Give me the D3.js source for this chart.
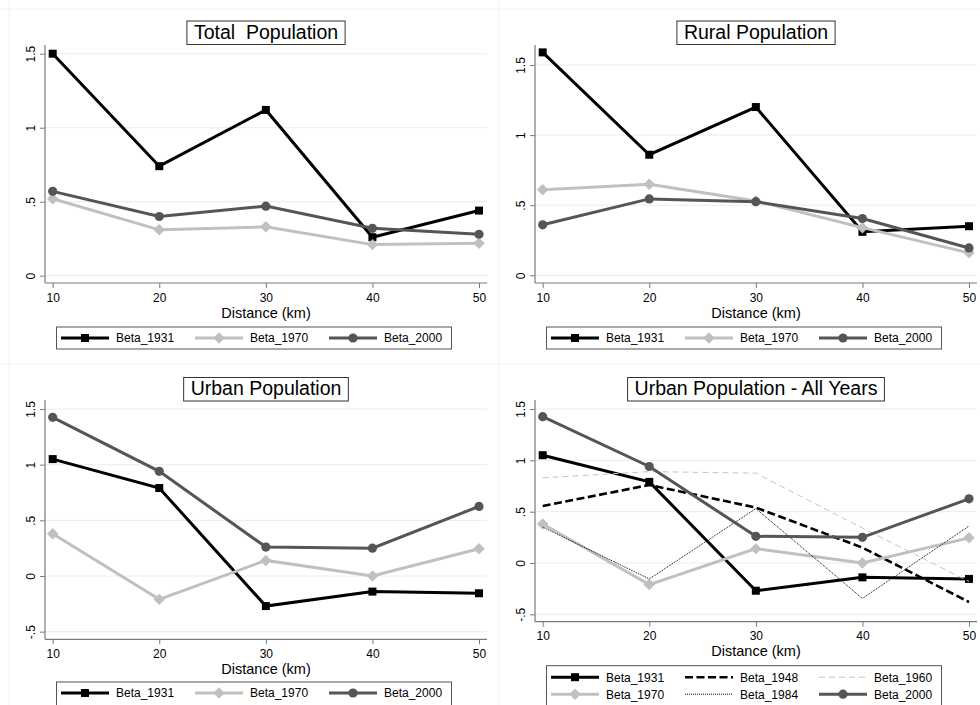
<!DOCTYPE html>
<html lang="en">
<head>
    <meta charset="UTF-8">
    <title>Population Betas by Distance</title>
    <script src="https://d3js.org/d3.v7.min.js"></script>
    <style>
        body {
            margin: 0;
            padding: 0;
            background: #fff;
            overflow: hidden;
        }
        svg {
            display: block;
            font-family: "Liberation Sans", Arial, sans-serif;
        }
        .grid line {
            stroke: #e4eef0;
            stroke-width: 1px;
        }
        .axis-line {
            stroke: #7a7a7a;
            stroke-width: 1.2px;
        }
        .tick line {
            stroke: #7a7a7a;
        }
    </style>
</head>
<body>
    <svg id="chart" width="980" height="705"></svg>

    <script>
        // distance bins (km)
        const distance = [10, 20, 30, 40, 50];

        const yTicksTop = [0, 0.5, 1, 1.5];
        const yTicksBottom = [-0.5, 0, 0.5, 1, 1.5];

        // total population
        const total1931 = [1.50, 0.74, 1.12, 0.26, 0.44];
        const total1970 = [0.52, 0.31, 0.33, 0.21, 0.22];
        const total2000 = [0.57, 0.40, 0.47, 0.32, 0.28];

        // rural population
        const rural1931 = [1.59, 0.86, 1.20, 0.31, 0.35];
        const rural1970 = [0.61, 0.65, 0.53, 0.34, 0.16];
        const rural2000 = [0.36, 0.545, 0.525, 0.405, 0.195];

        // urban population
        const urban1931 = [1.05, 0.79, -0.27, -0.14, -0.155];
        const urban1948 = [0.555, 0.76, 0.54, 0.15, -0.38];
        const urban1960 = [0.83, 0.89, 0.875, 0.34, -0.18];
        const urban1970 = [0.38, -0.21, 0.14, 0.00, 0.245];
        const urban1984 = [0.35, -0.155, 0.53, -0.345, 0.36];
        const urban2000 = [1.425, 0.94, 0.26, 0.25, 0.625];

        // line / marker styles per year
        const styles = {
            "1931": { color: "#000", width: 3, marker: "square" },
            "1948": { color: "#000", width: 2.6, dash: "8,3.5" },
            "1960": { color: "#c4c4c4", width: 1, dash: "6,4" },
            "1970": { color: "#c0c0c0", width: 3, marker: "diamond" },
            "1984": { color: "#000", width: 1, dash: "1,1" },
            "2000": { color: "#555", width: 3, marker: "circle" }
        };

        // y0 / y15 = pixel of value 0 and 1.5 inside the panel
        const panels = [
            { title: "Total  Population", ox: 0, oy: 0, yTicks: yTicksTop,
              y0: 275.7, y15: 53.7, plotBottom: 283, legendTop: 327, legendH: 22, titleDy: 0,
              series: [["1931", total1931], ["1970", total1970], ["2000", total2000]] },
            { title: "Rural Population", ox: 490, oy: 0, yTicks: yTicksTop,
              y0: 275.3, y15: 65, plotBottom: 283, legendTop: 327, legendH: 22, titleDy: 0,
              series: [["1931", rural1931], ["1970", rural1970], ["2000", rural2000]] },
            { title: "Urban Population", ox: 0, oy: 355, yTicks: yTicksBottom,
              y0: 221, y15: 54, plotBottom: 284.3, legendTop: 327, legendH: 30, titleDy: 1.5,
              series: [["1931", urban1931], ["1970", urban1970], ["2000", urban2000]] },
            { title: "Urban Population - All Years", ox: 490, oy: 355, yTicks: yTicksBottom,
              y0: 208, y15: 54, plotBottom: 266.7, legendTop: 310.7, legendH: 45, titleDy: 1.5,
              series: [["1931", urban1931], ["1948", urban1948], ["1960", urban1960],
                       ["1970", urban1970], ["1984", urban1984], ["2000", urban2000]] }
        ];

        const plotLeft = 45, plotRight = 487, plotTop = 45;

        const svg = d3.select("#chart");

        // faint panel borders
        svg.append("g").selectAll("line")
            .data([[9, 0, 9, 705], [499, 0, 499, 705], [0, 9, 980, 9], [0, 364, 980, 364]])
            .enter().append("line")
            .attr("x1", d => d[0]).attr("y1", d => d[1])
            .attr("x2", d => d[2]).attr("y2", d => d[3])
            .attr("stroke", "#eef1f2");

        const fmt = d => String(d).replace("0.", ".");

        function drawMarker(sel, type, color) {
            if (type === "square") {
                sel.append("path").attr("d", d3.symbol(d3.symbolSquare, 64)())
                    .attr("fill", color);
            } else if (type === "diamond") {
                sel.append("path").attr("d", d3.symbol(d3.symbolSquare, 66)())
                    .attr("transform", "rotate(45)")
                    .attr("fill", color);
            } else if (type === "circle") {
                sel.append("circle").attr("r", 4.6).attr("fill", color);
            }
        }

        panels.forEach(p => {
            const g = svg.append("g").attr("transform", `translate(${p.ox},${p.oy})`);

            const x = d3.scaleLinear().domain([10, 50]).range([52.7, 479]);
            const y = d3.scaleLinear().domain([0, 1.5]).range([p.y0, p.y15]);

            // grid
            g.append("g").attr("class", "grid").selectAll("line")
                .data(p.yTicks).enter().append("line")
                .attr("x1", plotLeft).attr("x2", plotRight)
                .attr("y1", d => y(d)).attr("y2", d => y(d));

            // y axis
            const yAxis = g.append("g")
                .attr("transform", `translate(${plotLeft},0)`)
                .call(d3.axisLeft(y).tickValues(p.yTicks).tickFormat(fmt).tickSize(5).tickSizeOuter(0));
            yAxis.select(".domain").remove();
            yAxis.attr("font-family", null).attr("font-size", null);
            yAxis.selectAll(".tick text")
                .attr("transform", "rotate(-90)")
                .attr("text-anchor", "middle")
                .attr("font-size", "12px")
                .attr("fill", "#000")
                .attr("x", 0).attr("y", -10.5).attr("dy", 0);

            // x axis
            const xAxis = g.append("g")
                .attr("transform", `translate(0,${p.plotBottom})`)
                .call(d3.axisBottom(x).tickValues(distance).tickSize(5).tickSizeOuter(0));
            xAxis.select(".domain").remove();
            xAxis.attr("font-family", null).attr("font-size", null);
            xAxis.selectAll(".tick text")
                .attr("font-size", "12px")
                .attr("fill", "#000")
                .attr("y", 18.5).attr("dy", 0);

            g.append("line").attr("class", "axis-line")
                .attr("x1", plotLeft).attr("x2", plotLeft)
                .attr("y1", plotTop).attr("y2", p.plotBottom);
            g.append("line").attr("class", "axis-line")
                .attr("x1", plotLeft).attr("x2", plotRight)
                .attr("y1", p.plotBottom).attr("y2", p.plotBottom);

            g.append("text")
                .attr("x", 266).attr("y", p.plotBottom + 34.5)
                .attr("text-anchor", "middle")
                .attr("font-size", "14.5px")
                .text("Distance (km)");

            // series
            const line = d3.line().x((d, i) => x(distance[i])).y(d => y(d));
            p.series.forEach(([year, vals]) => {
                const s = styles[year];
                g.append("path")
                    .datum(vals)
                    .attr("d", line)
                    .attr("fill", "none")
                    .attr("stroke", s.color)
                    .attr("stroke-width", s.width)
                    .attr("stroke-dasharray", s.dash || null);
                if (s.marker) {
                    g.append("g").selectAll("g")
                        .data(vals).enter().append("g")
                        .attr("transform", (d, i) => `translate(${x(distance[i])},${y(d)})`)
                        .each(function () { drawMarker(d3.select(this), s.marker, s.color); });
                }
            });

            // title box
            const titleBox = g.append("rect");
            const title = g.append("text")
                .attr("x", 266).attr("y", 38.5 + p.titleDy)
                .attr("text-anchor", "middle")
                .attr("font-size", "19.5px")
                .style("white-space", "pre")
                .text(p.title);
            const tw = title.node().getComputedTextLength();
            titleBox
                .attr("x", 266 - tw / 2 - 7).attr("y", 21 + p.titleDy)
                .attr("width", tw + 14).attr("height", 23.5)
                .attr("fill", "#fff").attr("stroke", "#333").attr("stroke-width", 1);

            // legend
            g.append("rect")
                .attr("x", 56.5).attr("y", p.legendTop)
                .attr("width", 395).attr("height", p.legendH)
                .attr("fill", "#fff").attr("stroke", "#555").attr("stroke-width", 1);

            const cols = [61, 195, 329];
            const rowY = p.series.length > 3 ? [11.5, 28.5] : [11];
            p.series.forEach(([year], i) => {
                const s = styles[year];
                const cx = cols[i % 3];
                const cy = p.legendTop + rowY[Math.floor(i / 3)];
                const lg = g.append("g");
                lg.append("line")
                    .attr("x1", cx).attr("x2", cx + 48)
                    .attr("y1", cy).attr("y2", cy)
                    .attr("stroke", s.color).attr("stroke-width", s.width)
                    .attr("stroke-dasharray", s.dash || null);
                if (s.marker) {
                    const m = lg.append("g").attr("transform", `translate(${cx + 24},${cy})`);
                    drawMarker(m, s.marker, s.color);
                }
                lg.append("text")
                    .attr("x", cx + 55).attr("y", cy + 4.3)
                    .attr("font-size", "12px")
                    .text("Beta_" + year);
            });
        });
    </script>
</body>
</html>
